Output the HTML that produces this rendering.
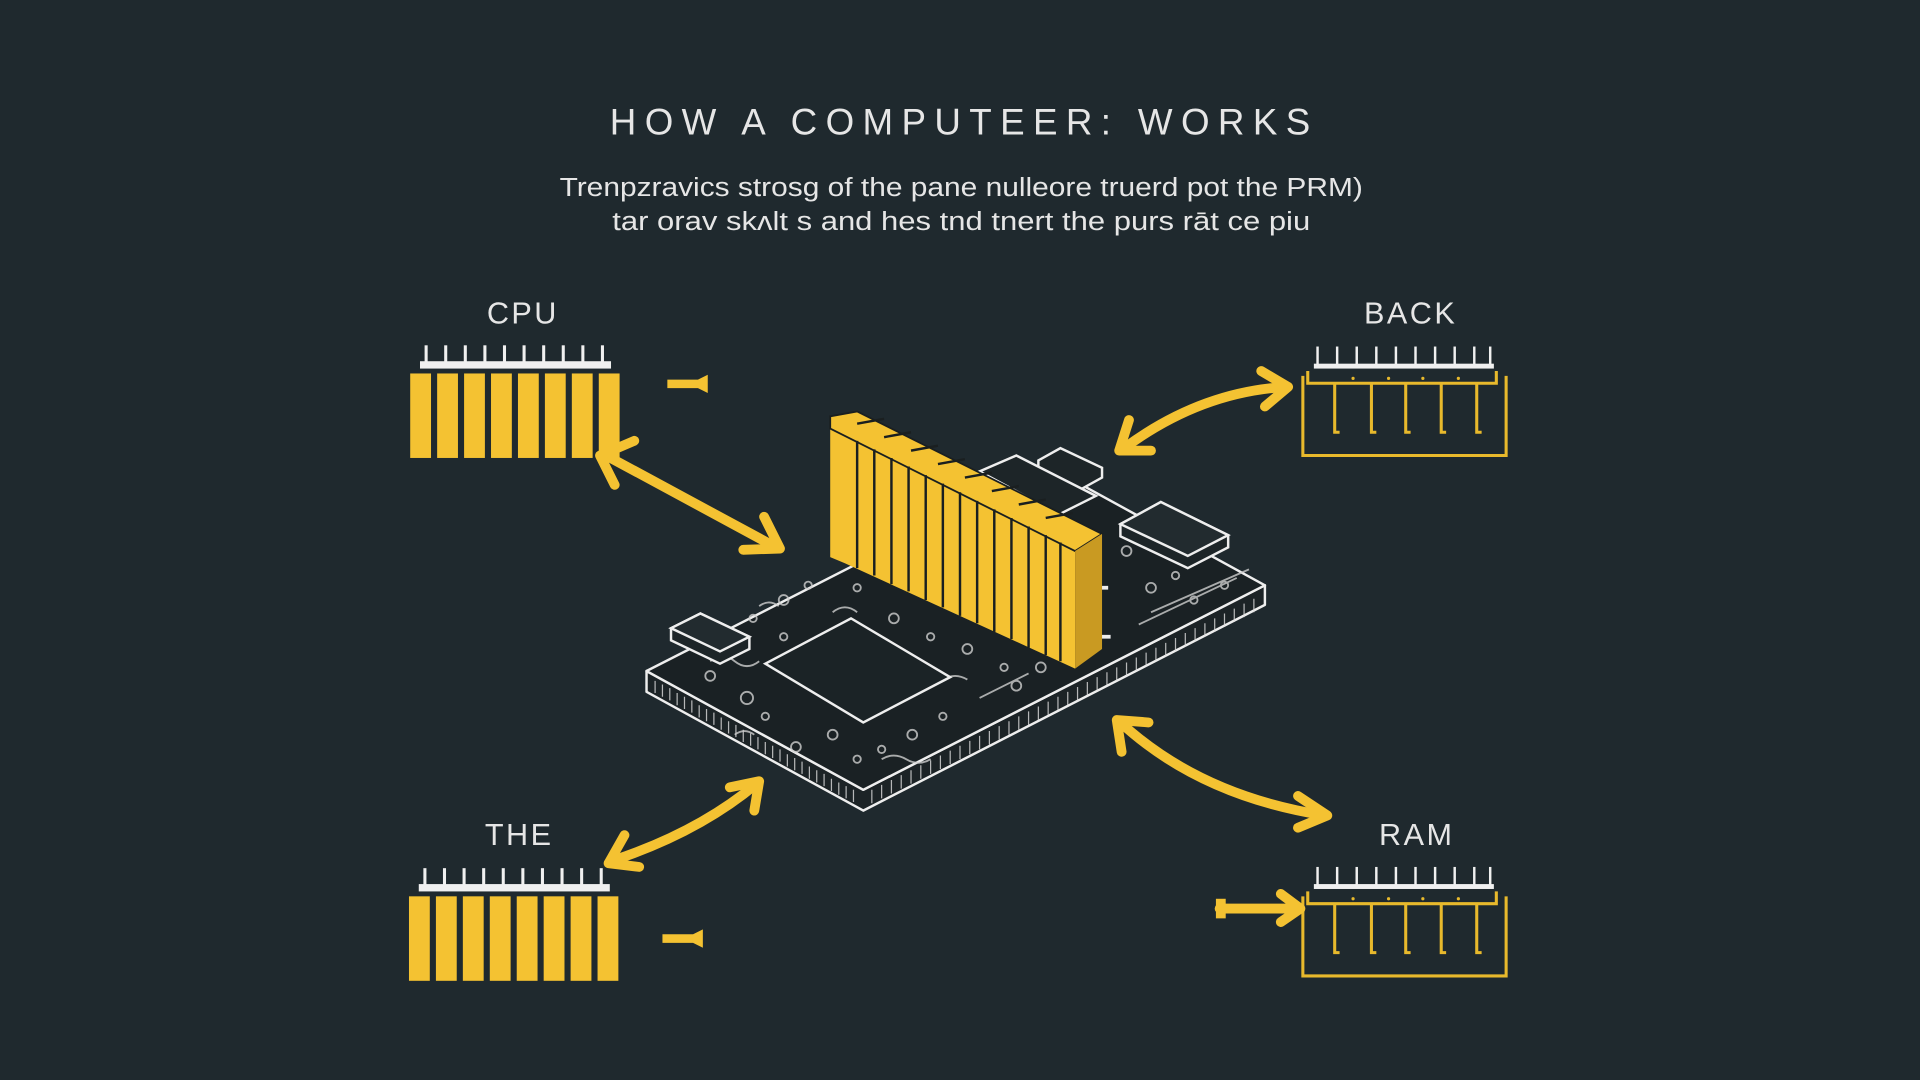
<!DOCTYPE html>
<html><head><meta charset="utf-8"><style>
html,body{margin:0;padding:0;background:#1f292e;width:1920px;height:1080px;overflow:hidden}
svg{display:block}
text{font-family:"Liberation Sans",sans-serif;fill:#e6e6e6}
</style></head><body>
<svg width="1920" height="1080" viewBox="0 0 1568 882" xmlns="http://www.w3.org/2000/svg">
<defs>
<g id="cpu">
  <rect x="343" y="295" width="156" height="6" fill="#f0f0f0"/>
  <g stroke="#f0f0f0" stroke-width="2.5">
    <line x1="348" y1="282" x2="348" y2="296"/><line x1="364" y1="282" x2="364" y2="296"/>
    <line x1="380" y1="282" x2="380" y2="296"/><line x1="396" y1="282" x2="396" y2="296"/>
    <line x1="412" y1="282" x2="412" y2="296"/><line x1="428" y1="282" x2="428" y2="296"/>
    <line x1="444" y1="282" x2="444" y2="296"/><line x1="460" y1="282" x2="460" y2="296"/>
    <line x1="476" y1="282" x2="476" y2="296"/><line x1="492" y1="282" x2="492" y2="296"/>
  </g>
  <g fill="#f4c232">
    <rect x="335" y="305" width="17" height="69"/><rect x="357" y="305" width="17" height="69"/>
    <rect x="379" y="305" width="17" height="69"/><rect x="401" y="305" width="17" height="69"/>
    <rect x="423" y="305" width="17" height="69"/><rect x="445" y="305" width="17" height="69"/>
    <rect x="467" y="305" width="17" height="69"/><rect x="489" y="305" width="17" height="69"/>
  </g>
</g>
<path id="tee" d="M545 310 H570 L578 306 V321 L570 317 H545 Z" fill="#f4c232"/>
<g id="box">
  <rect x="1073" y="297" width="147" height="4" fill="#f0f0f0"/>
  <g stroke="#f0f0f0" stroke-width="2">
    <line x1="1076" y1="283" x2="1076" y2="298"/><line x1="1092" y1="283" x2="1092" y2="298"/>
    <line x1="1108" y1="283" x2="1108" y2="298"/><line x1="1124" y1="283" x2="1124" y2="298"/>
    <line x1="1140" y1="283" x2="1140" y2="298"/><line x1="1156" y1="283" x2="1156" y2="298"/>
    <line x1="1172" y1="283" x2="1172" y2="298"/><line x1="1188" y1="283" x2="1188" y2="298"/>
    <line x1="1204" y1="283" x2="1204" y2="298"/><line x1="1217" y1="283" x2="1217" y2="298"/>
  </g>
  <g stroke="#e8b92c" stroke-width="2.5" fill="none">
    <path d="M1064 307 V372 H1230 V307"/>
    <path d="M1068 303 V313 H1222 V303"/>
    <path d="M1090 313 V353 H1094"/><path d="M1120 313 V353 H1124"/><path d="M1148 313 V353 H1152"/>
    <path d="M1177 313 V353 H1181"/><path d="M1206 313 V353 H1210"/>
  </g>
  <g fill="#e8b92c"><circle cx="1105" cy="309" r="1.3"/><circle cx="1134" cy="309" r="1.3"/><circle cx="1162" cy="309" r="1.3"/><circle cx="1191" cy="309" r="1.3"/></g>
</g>
</defs>

<text x="498" y="110" font-size="30" textLength="572" lengthAdjust="spacing">HOW A COMPUTEER: WORKS</text>
<text x="457" y="160" font-size="21" textLength="656" lengthAdjust="spacingAndGlyphs">Trenpzravics strosg of the pane nulleore truerd pot the PRM)</text>
<text x="500" y="188" font-size="21" textLength="570" lengthAdjust="spacingAndGlyphs">tar orav skʌlt s and hes tnd tnert the purs rāt ce piu</text>

<text x="427" y="264" font-size="25" text-anchor="middle" letter-spacing="2">CPU</text>
<text x="1152" y="264" font-size="25" text-anchor="middle" letter-spacing="2">BACK</text>
<text x="424" y="690" font-size="25" text-anchor="middle" letter-spacing="2">THE</text>
<text x="1157" y="690" font-size="25" text-anchor="middle" letter-spacing="2">RAM</text>

<use href="#cpu"/>
<use href="#cpu" transform="translate(-1,427)"/>
<use href="#tee"/>
<use href="#tee" transform="translate(-4,453)"/>
<use href="#box"/>
<use href="#box" transform="translate(0,425)"/>

<g stroke="#f4c232" stroke-width="8" fill="none" stroke-linecap="round" stroke-linejoin="round">
  <path d="M495 372 L632 446"/>
  <path d="M490 372 L518 360 M490 372 L502 396"/>
  <path d="M637 448 L607 449 M637 448 L624 422"/>
  <path d="M918 366 Q980 320 1050 316"/>
  <path d="M914 368 L922 343 M914 368 L940 368"/>
  <path d="M1052 316 L1030 303 M1052 316 L1033 332"/>
  <path d="M500 703 Q570 680 618 640"/>
  <path d="M497 705 L510 682 M497 705 L522 708"/>
  <path d="M620 638 L596 643 M620 638 L616 662"/>
  <path d="M915 590 Q980 650 1082 666"/>
  <path d="M912 588 L938 590 M912 588 L916 614"/>
  <path d="M1084 666 L1060 650 M1084 666 L1060 676"/>
  <path d="M996 742 H1062 M1062 742 L1046 730 M1062 742 L1046 753"/>
</g>
<rect x="993" y="734" width="8" height="16" fill="#f4c232"/>

<g stroke="#eeeeee" stroke-width="2" stroke-linejoin="round">
  <path d="M528 548 L705 645 L1033 478 L1033 494 L705 662 L528 565 Z" fill="#1c2326"/>
  <path d="M528 548 L856 381 L1033 478 L705 645 Z" fill="#1a2124"/>
</g>
<g stroke="#dddddd" stroke-width="1" opacity="0.8">
  <path d="M535 556 V566 M541 559 V569 M547 562 V572 M553 566 V576 M559 569 V579 M565 572 V582 M571 576 V586 M577 579 V589 M583 582 V592 M589 586 V596 M595 589 V599 M601 592 V602 M607 596 V606 M613 599 V609 M619 602 V612 M625 606 V616 M631 609 V619 M637 612 V622 M643 616 V626 M649 619 V629 M655 622 V632 M661 626 V636 M667 629 V639 M673 632 V642 M679 636 V646 M685 639 V649 M691 642 V652 M697 645 V655"/>
  <path d="M712 645 V656 M720 641 V652 M728 637 V648 M736 633 V644 M744 629 V640 M752 625 V636 M760 621 V632 M768 617 V628 M776 613 V624 M784 609 V620 M792 605 V616 M800 601 V612 M808 597 V608 M816 593 V604 M824 589 V600 M832 585 V596 M840 581 V592 M848 577 V588 M856 573 V584 M864 569 V580 M872 565 V576 M880 561 V572 M888 557 V568 M896 553 V564 M904 549 V560 M912 545 V556 M920 541 V552 M928 537 V548 M936 533 V544 M944 529 V540 M952 525 V536 M960 521 V532 M968 517 V528 M976 513 V524 M984 509 V520 M992 505 V516 M1000 501 V512 M1008 497 V508 M1016 493 V504 M1024 489 V500"/>
</g>
<g stroke="#cfcfcf" stroke-width="1.5" fill="none" opacity="0.8">
  <circle cx="600" cy="520" r="4"/><circle cx="615" cy="505" r="3"/><circle cx="640" cy="490" r="4"/>
  <circle cx="660" cy="478" r="3"/><circle cx="700" cy="480" r="3"/><circle cx="730" cy="505" r="4"/>
  <circle cx="760" cy="520" r="3"/><circle cx="790" cy="530" r="4"/><circle cx="820" cy="545" r="3"/>
  <circle cx="610" cy="570" r="5"/><circle cx="650" cy="610" r="4"/><circle cx="700" cy="620" r="3"/>
  <circle cx="745" cy="600" r="4"/><circle cx="850" cy="545" r="4"/><circle cx="940" cy="480" r="4"/>
  <circle cx="960" cy="470" r="3"/><circle cx="920" cy="450" r="4"/>
  <circle cx="580" cy="552" r="4"/><circle cx="625" cy="585" r="3"/><circle cx="680" cy="600" r="4"/>
  <circle cx="720" cy="612" r="3"/><circle cx="770" cy="585" r="3"/><circle cx="830" cy="560" r="4"/>
  <circle cx="975" cy="490" r="3"/><circle cx="1000" cy="478" r="3"/><circle cx="640" cy="520" r="3"/>
  <path d="M580 540 q10 -8 20 0 t20 0 M620 495 q8 -6 16 0 M680 500 q10 -8 20 0 M770 555 q10 -6 20 0 M800 570 l40 -20 M940 500 l80 -35 M930 510 l80 -38 M720 620 q10 -6 20 0 t20 0 M600 600 q8 -6 16 0"/>
</g>
<path d="M625 542 L695 505 L776 553 L705 590 Z" fill="#1b2326" stroke="#eeeeee" stroke-width="2"/>
<g stroke="#eeeeee" stroke-width="2">
  <path d="M548 513 L572 501 L612 520 L612 530 L588 542 L548 523 Z" fill="#1d2528"/>
  <path d="M548 513 L572 501 L612 520 L588 532 Z" fill="#222b2f"/>
  <path d="M915 428 L948 410 L1003 437 L1003 447 L970 464 L915 438 Z" fill="#1d2528"/>
  <path d="M915 428 L948 410 L1003 437 L970 454 Z" fill="#222b2f"/>
  <path d="M848 376 L866 366 L900 382 L900 390 L882 400 L848 384 Z" fill="#1d2528"/>
  <path d="M800 385 L830 372 L895 405 L865 420 Z" fill="#1d2528"/>
</g>
<path d="M905 480 h-8 v40 h10" stroke="#eee" stroke-width="3" fill="none"/>
<path d="M678 350 L878 450 L878 546 L690 460 L678 455 Z" fill="#f4c232"/>
<path d="M678 340 L700 336 L900 436 L878 450 L678 350 Z" fill="#f4c232" stroke="#1a1f20" stroke-width="1.5"/>
<g stroke="#1a1f20" stroke-width="2">
  <path d="M700 360 V464 M714 367 V470 M728 374 V477 M742 381 V483 M756 388 V490 M770 395 V496 M784 402 V503 M798 409 V509 M812 416 V516 M826 423 V522 M840 430 V529 M854 437 V535 M866 443 V540"/>
  <path d="M700 346 l22 -4 M722 357 l22 -4 M744 368 l22 -4 M766 379 l22 -4 M788 390 l22 -4 M810 401 l22 -4 M832 412 l22 -4 M854 423 l22 -4"/>
</g>
<path d="M878 450 L900 436 L900 530 L878 546 Z" fill="#c99a22"/>
</svg>
</body></html>
